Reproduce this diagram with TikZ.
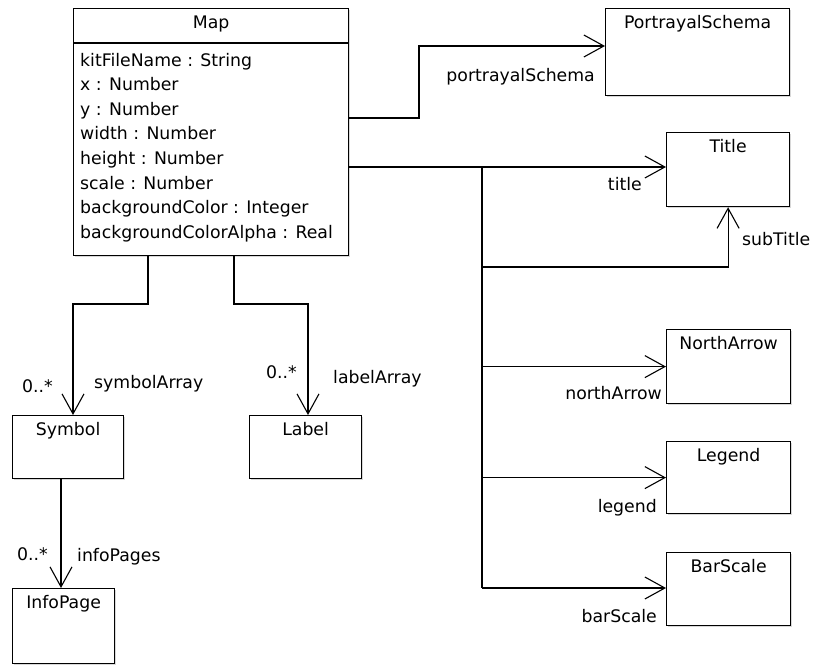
\documentclass[tikz,border=0pt]{standalone}
\usepackage{fontspec}
\setmainfont{DejaVu Sans}
\usetikzlibrary{arrows.meta,shadows,calc}
\begin{document}
\begin{tikzpicture}[x=1pt,y=-1pt,
  cls/.style={draw, line width=1.2pt, fill=white, rectangle, inner sep=0pt,
    anchor=north west,
    drop shadow={shadow xshift=1.5pt, shadow yshift=-1.5pt, opacity=0.3}},
  assoc/.style={line width=1.1pt, -{Straight Barb[length=20pt,width=22pt]}},
  plain/.style={line width=1.1pt},
  txt/.style={font=\fontsize{17.3}{24.6}\selectfont, inner sep=0pt},
]
\useasboundingbox[fill=white] (0,0) rectangle (813,664);

% classes
\node[cls, minimum width=275pt, minimum height=247pt] (map) at (73,8) {};
\node[cls, minimum width=184pt, minimum height=87pt] (ps) at (605,8) {};
\node[cls, minimum width=123pt, minimum height=74pt] (title) at (666,132) {};
\node[cls, minimum width=124pt, minimum height=74pt] (north) at (666,329) {};
\node[cls, minimum width=124pt, minimum height=72pt] (legend) at (666,441) {};
\node[cls, minimum width=124pt, minimum height=73pt] (bar) at (666,552) {};
\node[cls, minimum width=111pt, minimum height=63pt] (symbol) at (12,415) {};
\node[cls, minimum width=112pt, minimum height=63pt] (label) at (249,415) {};
\node[cls, minimum width=102pt, minimum height=75pt] (info) at (12,588) {};

% class names
\node[txt, anchor=base] (mapname) at ($(map.north)+(0,20)$) {Map};
\node[txt, anchor=base] (psname) at ($(ps.north)+(0,20)$) {PortrayalSchema};
\node[txt, anchor=base] (titlename) at ($(title.north)+(0,20)$) {Title};
\node[txt, anchor=base] (northname) at ($(north.north)+(0,20)$) {NorthArrow};
\node[txt, anchor=base] (legendname) at ($(legend.north)+(0,20)$) {Legend};
\node[txt, anchor=base] (barname) at ($(bar.north)+(0,20)$) {BarScale};
\node[txt, anchor=base] (symbolname) at ($(symbol.north)+(0,20)$) {Symbol};
\node[txt, anchor=base] (labelname) at ($(label.north)+(0,20)$) {Label};
\node[txt, anchor=base] (infoname) at ($(info.north)+(0,20)$) {InfoPage};

% Map compartment and attributes
\draw[line width=1.2pt] ($(map.north west)+(0,35)$) -- ($(map.north east)+(0,35)$);
\node[txt, anchor=base west] (at1) at (80,66) {kitFileName : String};
\node[txt, anchor=base west] (at2) at (80,90.6) {x : Number};
\node[txt, anchor=base west] (at3) at (80,115.2) {y : Number};
\node[txt, anchor=base west] (at4) at (80,139.8) {width : Number};
\node[txt, anchor=base west] (at5) at (80,164.4) {height : Number};
\node[txt, anchor=base west] (at6) at (80,189) {scale : Number};
\node[txt, anchor=base west] (at7) at (80,213.6) {backgroundColor : Integer};
\node[txt, anchor=base west] (at8) at (80,238.2) {backgroundColorAlpha : Real};

% routing points
\coordinate (psbend) at (419,118);
\coordinate (jt) at (482,167);
\coordinate (jb) at (482,588);
\coordinate (jsub) at (482,267);
\coordinate (symbend) at (148,304);
\coordinate (labbend) at (234,304);

% associations to the right
\draw[assoc] (map.east |- psbend) -- (psbend) -- (psbend |- 0,46) -- (ps.west |- 0,46);
\draw[assoc] (map.east |- jt) -- (title.west |- jt);
\draw[plain] (jt) -- (jb);
\draw[assoc] (jsub) -| (title.south);
\draw[assoc] (jt |- north.west) -- (north.west);
\draw[assoc] (jt |- legend.west) -- (legend.west);
\draw[assoc] (jb) -- (bar.west |- jb);

% associations below
\draw[assoc] (map.south -| symbend) -- (symbend) -- (73,304) -- (symbol.north -| 73,0);
\draw[assoc] (map.south -| labbend) -- (labbend) -- (308,304) -- (label.north -| 308,0);
\draw[assoc] (symbol.south -| 61,0) -- (info.north -| 61,0);

% role names and multiplicities
\node[txt, anchor=base east] (lps) at (595,81) {portrayalSchema};
\node[txt, anchor=base east] (ltitle) at (642,190) {title};
\node[txt, anchor=base west] (lsub) at (742,245) {subTitle};
\node[txt, anchor=base east] (lnorth) at (662,399) {northArrow};
\node[txt, anchor=base east] (llegend) at (657,512) {legend};
\node[txt, anchor=base east] (lbar) at (657,622) {barScale};
\node[txt, anchor=base west] (msym) at (22,392) {0..*};
\node[txt, anchor=base west] (lsym) at (94,388) {symbolArray};
\node[txt, anchor=base west] (mlab) at (266,378) {0..*};
\node[txt, anchor=base west] (llab) at (333,383) {labelArray};
\node[txt, anchor=base west] (minfo) at (17,560) {0..*};
\node[txt, anchor=base west] (linfo) at (77,561) {infoPages};
\end{tikzpicture}
\end{document}
